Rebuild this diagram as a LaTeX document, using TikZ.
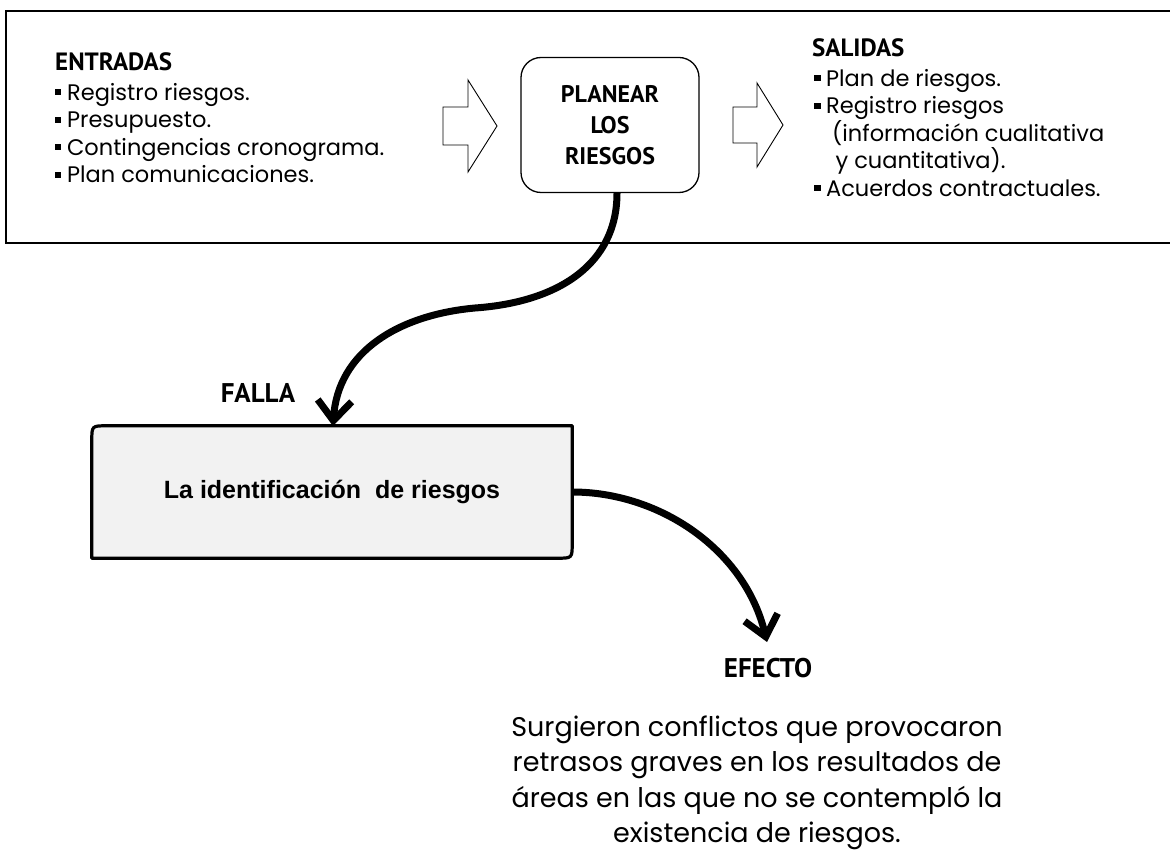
\documentclass[tikz,border=0pt]{standalone}
\usepackage{fontspec}
\setmainfont{Poppins}
\newfontfamily\hdfont{PT Sans}
\newfontfamily\arialfont{Liberation Sans}
\usetikzlibrary{arrows.meta,calc}
\newcommand\sqb{\rule[0.22em]{0.28em}{0.28em}\hspace{0.25em}}
\begin{document}
\begin{tikzpicture}[x=1pt,y=-1pt,
  hd/.style={font=\hdfont\bfseries\fontsize{25}{30}\selectfont, inner sep=0pt},
  body/.style={font=\fontsize{22.5}{27.5}\selectfont, align=left, inner sep=0pt},
  blockarrow/.style={draw=black, line width=0.9pt, fill=white, line join=miter},
  bigline/.style={line width=7pt, line cap=butt, -{Straight Barb[length=20pt,width=34pt,line width=7pt]}},
  identbox/.style={minimum width=480pt, minimum height=132pt, inner sep=0pt, font=\arialfont\bfseries\fontsize{25}{30}\selectfont},
]
\useasboundingbox (0,0) rectangle (1170,858);
% outer frame
\draw[line width=1.4pt] (6,11) rectangle (1180,243);
% ENTRADAS
\node[hd, anchor=west] (ent) at (55,62) {ENTRADAS};
\node[body, anchor=north west] (entlist) at (55,83) {\sqb Registro riesgos.\\ \sqb Presupuesto.\\ \sqb Contingencias cronograma.\\ \sqb Plan comunicaciones.};
% left block arrow
\draw[blockarrow] (443,107) -- (468,107) -- (468,80) -- (497,126) -- (468,172) -- (468,145) -- (443,145) -- cycle;
% central box
\node[draw, line width=1.3pt, rounded corners=20pt, minimum width=178pt, minimum height=135pt, align=center,
  font=\hdfont\bfseries\fontsize{24}{31}\selectfont] (plan) at (610,125) {PLANEAR\\LOS\\RIESGOS};
% right block arrow
\draw[blockarrow] (733,107) -- (757,107) -- (757,83) -- (783,125) -- (757,167) -- (757,143) -- (733,143) -- cycle;
% SALIDAS
\node[hd, anchor=west] (sal) at (812,48) {SALIDAS};
\node[body, anchor=north west] (sallist) at (814,69) {\sqb Plan de riesgos.\\ \sqb Registro riesgos\\ \hspace{0.8em}(información cualitativa\\ \hspace{0.95em}y cuantitativa).\\ \sqb Acuerdos contractuales.};
% lower box
\node[identbox] (ident) at (332,492) {};
\path[fill=gray!10] (ident.south west) -- ($(ident.north west)+(0,15)$) .. controls (ident.north west) .. ($(ident.north west)+(15,0)$) -- (ident.north east) -- ($(ident.south east)+(0,-15)$) .. controls (ident.south east) .. ($(ident.south east)+(-15,0)$) -- cycle;
\node[identbox] at (ident.center) {La identificación \ de riesgos};
\draw[line width=3.2pt, line join=round] (ident.south west) -- ($(ident.north west)+(0,15)$) .. controls (ident.north west) .. ($(ident.north west)+(15,0)$) -- (ident.north east) -- ($(ident.south east)+(0,-15)$) .. controls (ident.south east) .. ($(ident.south east)+(-15,0)$) -- cycle;
% FALLA
\node[hd, font=\hdfont\bfseries\fontsize{27}{30}\selectfont] (falla) at (258,393) {FALLA};
% EFECTO
\node[hd, font=\hdfont\bfseries\fontsize{27}{30}\selectfont] (efecto) at (768,668) {EFECTO};
\node[align=center, inner sep=0pt, font=\fontsize{27}{35.5}\selectfont] (texto) at (757,783) {Surgieron conflictos que provocaron\\ retrasos graves en los resultados de\\ áreas en las que no se contempló la\\ existencia de riesgos.};
% curved connectors
\draw[bigline] ([xshift=7pt]plan.south) .. controls +(0,70) and (560,302) .. (475,308)
   .. controls (398,315) and (338,352) .. (333,426);
\draw[bigline] (ident.east) .. controls (660,492) and (745,550) .. (767,642);
\end{tikzpicture}
\end{document}
